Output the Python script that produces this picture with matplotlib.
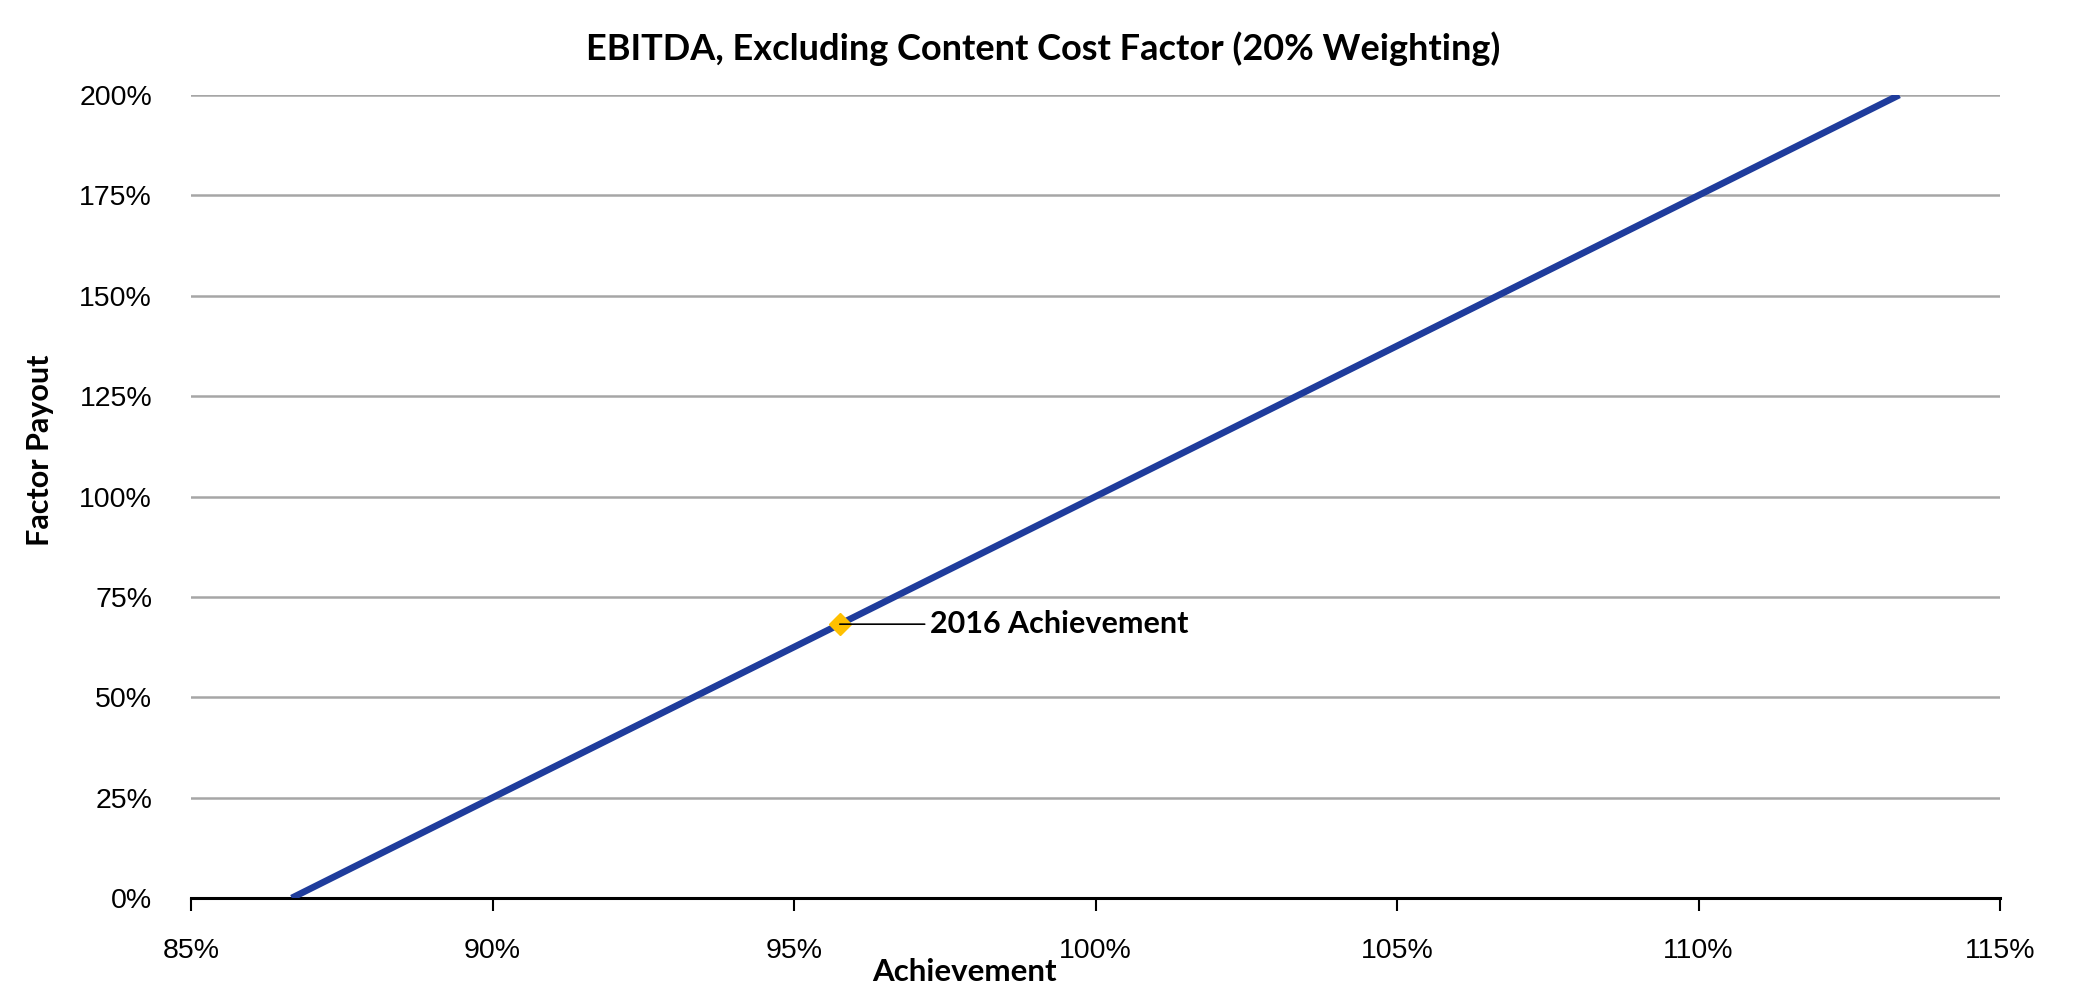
import matplotlib
matplotlib.use("Agg")
import matplotlib.pyplot as plt
from matplotlib.ticker import FuncFormatter
from matplotlib import font_manager

achievement = [86.67, 90, 95, 100, 105, 110, 113.33]
payout = [0, 25, 62.5, 100, 137.5, 175, 200]
point_x = [95.76]
point_y = [68.2]
point_label = "2016 Achievement"
title = "EBITDA, Excluding Content Cost Factor (20% Weighting)"
x_ticks = [85, 90, 95, 100, 105, 110, 115]
y_ticks = [0, 25, 50, 75, 100, 125, 150, 175, 200]

names = {f.name for f in font_manager.fontManager.ttflist}
tick_font = "Liberation Sans Narrow" if "Liberation Sans Narrow" in names else "Liberation Sans"
bold_font = "Lato" if "Lato" in names else "DejaVu Sans"

fig = plt.figure(figsize=(20.74, 9.94), dpi=100)
ax = fig.add_axes([191/2074, 1 - 898/994, (2000-191)/2074, (898-95)/994])

ax.plot(achievement, payout, color="#1F3C9C", lw=4.8, solid_capstyle="butt", zorder=3)
ax.plot(point_x, point_y, marker="D", color="#FFC000", ms=11, ls="none", zorder=4)
ax.annotate(point_label, xy=(point_x[0], point_y[0]), xytext=(point_x[0] + 1.5, point_y[0]),
            fontsize=22, fontweight="bold", family=bold_font, va="center", ha="left",
            arrowprops=dict(arrowstyle="-", color="black", lw=1.2, shrinkA=2, shrinkB=0),
            zorder=5)

ax.set_xlim(85, 115)
ax.set_ylim(0, 200)
ax.set_xticks(x_ticks)
ax.set_yticks(y_ticks)
ax.xaxis.set_major_formatter(FuncFormatter(lambda v, p: f"{v:.0f}%"))
ax.yaxis.set_major_formatter(FuncFormatter(lambda v, p: f"{v:.0f}%"))
for lab in ax.get_xticklabels() + ax.get_yticklabels():
    lab.set_family(tick_font)
    lab.set_fontsize(20.5)
ax.tick_params(axis="x", direction="out", length=9, width=1.5, pad=20, color="black")
ax.tick_params(axis="y", length=0, pad=28)
ax.grid(axis="y", color="#A6A6A6", lw=1.8)
ax.set_axisbelow(True)
for s in ["left", "right", "top"]:
    ax.spines[s].set_visible(False)
ax.spines["bottom"].set_linewidth(2.2)
ax.spines["bottom"].set_zorder(2)

fig.text(1043/2074, 1 - 49/994, title, ha="center", va="center",
         fontsize=26, fontweight="bold", family=bold_font)
fig.text(964/2074, 1 - 972/994, "Achievement", ha="center", va="center",
         fontsize=22.5, fontweight="bold", family=bold_font)
fig.text(40/2074, 1 - 450/994, "Factor Payout", ha="center", va="center", rotation=90,
         fontsize=22, fontweight="bold", family=bold_font)

fig.savefig("out.png", dpi=100, facecolor="white")
